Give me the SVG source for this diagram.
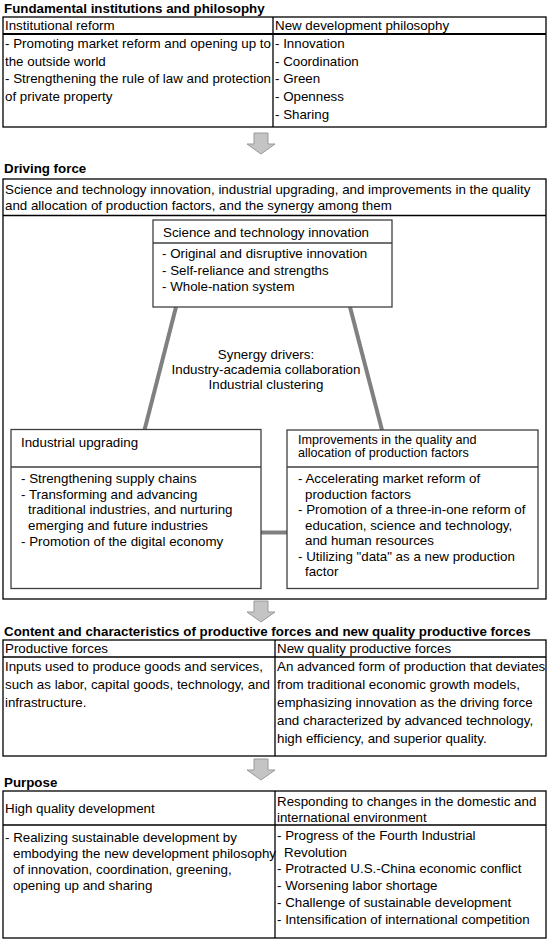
<svg xmlns="http://www.w3.org/2000/svg" width="551" height="942" viewBox="0 0 551 942">
<style>
  text { font-family: "Liberation Sans", Arial, sans-serif; font-size: 13.33px; fill: #000; }
  .title { font-weight: bold; }
  .mid { text-anchor: middle; }
  .tight { font-size: 12.6px; }
  .frame { fill: #fff; stroke: #000; stroke-width: 1.3; }
  .rule { stroke: #000; stroke-width: 1.3; fill: none; }
  .rule2 { stroke: #000; stroke-width: 2; fill: none; }
  .box { fill: #fff; stroke: #404040; stroke-width: 1.3; }
  .boxrule { stroke: #404040; stroke-width: 1.3; fill: none; }
  .link { stroke: #808080; stroke-width: 4; fill: none; }
  .arrow { fill: #c4c4c4; stroke: #999; stroke-width: 1; }
</style>
<defs>
  <polygon id="downArrow" points="-7,0 7,0 7,11 14,11 0,21 -14,11 -7,11"/>
</defs>
<rect width="551" height="942" fill="#fff"/>

<!-- Section 1 -->
<g id="fundamental">
  <text class="title" x="4" y="13">Fundamental institutions and philosophy</text>
  <rect class="frame" x="3" y="17" width="543" height="110"/>
  <line class="rule2" x1="3" y1="34" x2="546" y2="34"/>
  <line class="rule" x1="273" y1="17" x2="273" y2="127"/>
  <text x="5" y="30">Institutional reform</text>
  <text x="275" y="30">New development philosophy</text>
  <text x="5" y="48">- Promoting market reform and opening up to</text>
  <text x="5" y="65.7">the outside world</text>
  <text x="5" y="83.4">- Strengthening the rule of law and protection</text>
  <text x="5" y="101.1">of private property</text>
  <text x="275" y="48">- Innovation</text>
  <text x="275" y="65.7">- Coordination</text>
  <text x="275" y="83.4">- Green</text>
  <text x="275" y="101.1">- Openness</text>
  <text x="275" y="118.8">- Sharing</text>
</g>

<g id="arrows">
  <use href="#downArrow" class="arrow" x="261" y="133"/>
  <use href="#downArrow" class="arrow" x="261" y="601"/>
  <use href="#downArrow" class="arrow" x="261" y="759"/>
</g>

<!-- Section 2 -->
<g id="driving-force">
  <text class="title" x="4" y="173">Driving force</text>
  <rect class="frame" x="3" y="179" width="543" height="420"/>
  <text x="5" y="194">Science and technology innovation, industrial upgrading, and improvements in the quality</text>
  <text x="5" y="210">and allocation of production factors, and the synergy among them</text>
  <line class="rule" x1="3" y1="215.5" x2="546" y2="215.5"/>
</g>

<g id="connectors">
  <line class="link" x1="176" y1="307" x2="144.5" y2="430"/>
  <line class="link" x1="350" y1="307" x2="382" y2="430"/>
  <line class="link" x1="261" y1="532.5" x2="287" y2="532.5"/>
</g>

<g id="synergy">
  <text class="mid" x="266" y="359">Synergy drivers:</text>
  <text class="mid" x="266" y="374">Industry-academia  collaboration</text>
  <text class="mid" x="266" y="388.5">Industrial  clustering</text>
</g>

<g id="science-tech">
  <rect class="box" x="153" y="220" width="239" height="87"/>
  <line class="boxrule" x1="153" y1="243" x2="392" y2="243"/>
  <text x="163" y="236.5">Science and technology innovation</text>
  <text x="162" y="258">- Original and disruptive innovation</text>
  <text x="162" y="274.5">- Self-reliance and strengths</text>
  <text x="162" y="291">- Whole-nation system</text>
</g>

<g id="industrial-upgrading">
  <rect class="box" x="11" y="429.5" width="250" height="159"/>
  <line class="boxrule" x1="11" y1="467" x2="261" y2="467"/>
  <text x="21" y="447">Industrial  upgrading</text>
  <text x="21" y="483">- Strengthening  supply chains</text>
  <text x="21" y="498.7">- Transforming  and advancing</text>
  <text x="28" y="514.4">traditional industries, and nurturing</text>
  <text x="28" y="530.1">emerging  and future industries</text>
  <text x="21" y="545.8">- Promotion  of the digital economy</text>
</g>

<g id="production-factors">
  <rect class="box" x="287" y="430" width="251" height="158.5"/>
  <line class="boxrule" x1="287" y1="467" x2="538" y2="467"/>
  <text class="tight" x="298" y="443.5">Improvements  in the quality and</text>
  <text class="tight" x="298" y="457">allocation of production  factors</text>
  <text x="298" y="483">- Accelerating market reform of</text>
  <text x="305" y="498.5">production  factors</text>
  <text x="298" y="514">- Promotion  of a three-in-one  reform of</text>
  <text x="305" y="529.5">education,  science and technology,</text>
  <text x="305" y="545">and human resources</text>
  <text x="298" y="560.5">- Utilizing "data" as a new production</text>
  <text x="305" y="576">factor</text>
</g>

<!-- Section 3 -->
<g id="content">
  <text class="title" x="4" y="636">Content and characteristics of productive forces and new quality productive forces</text>
  <rect class="frame" x="3" y="640" width="543" height="116"/>
  <line class="rule" x1="3" y1="657" x2="546" y2="657"/>
  <line class="rule" x1="275" y1="640" x2="275" y2="756"/>
  <text x="5" y="653">Productive forces</text>
  <text x="277" y="653">New quality productive forces</text>
  <text x="5" y="671">Inputs used to produce goods and services,</text>
  <text x="5" y="689">such as labor, capital goods, technology, and</text>
  <text x="5" y="707">infrastructure.</text>
  <text x="277" y="671">An advanced form of production that deviates</text>
  <text x="277" y="689">from traditional economic growth models,</text>
  <text x="277" y="707">emphasizing innovation as the driving force</text>
  <text x="277" y="725">and characterized by advanced technology,</text>
  <text x="277" y="743">high efficiency, and superior quality.</text>
</g>

<!-- Section 4 -->
<g id="purpose">
  <text class="title" x="4" y="787">Purpose</text>
  <rect class="frame" x="3" y="791" width="543" height="147"/>
  <line class="rule" x1="3" y1="825" x2="546" y2="825"/>
  <line class="rule" x1="275" y1="791" x2="275" y2="938"/>
  <text x="5" y="812.5">High quality development</text>
  <text x="277" y="806">Responding to changes in the domestic and</text>
  <text x="277" y="822">international environment</text>
  <text x="5" y="842">- Realizing sustainable development by</text>
  <text x="13" y="858">embodying the new development philosophy</text>
  <text x="13" y="874">of innovation, coordination, greening,</text>
  <text x="13" y="890">opening up and sharing</text>
  <text x="277" y="840">- Progress of the Fourth Industrial</text>
  <text x="284" y="856.7">Revolution</text>
  <text x="277" y="873.4">- Protracted U.S.-China economic conflict</text>
  <text x="277" y="890.1">- Worsening labor shortage</text>
  <text x="277" y="906.8">- Challenge of sustainable development</text>
  <text x="277" y="923.5">- Intensification of international competition</text>
</g>
</svg>
